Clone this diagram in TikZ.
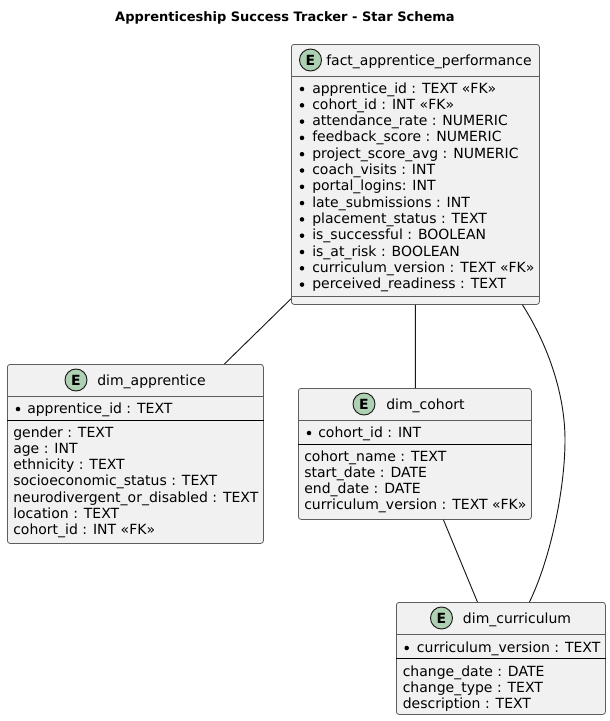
\documentclass[tikz,border=0pt]{standalone}
\usepackage{fontspec}
\setmainfont{DejaVu Sans}
\usetikzlibrary{positioning}
\definecolor{boxcolor}{RGB}{241,241,241}
\definecolor{spotcolor}{RGB}{173,209,178}
\definecolor{linecolor}{RGB}{24,24,24}

\begin{document}
\begin{tikzpicture}[x=0.75pt,y=-0.75pt]
  \tikzset{
    entity/.style={
      draw=linecolor!70,
      line width=0.6pt,
      rounded corners=2pt,
      fill=boxcolor,
      inner sep=0pt,
      anchor=north west
    },
    spot/.style={
      circle,
      draw=linecolor,
      line width=0.7pt,
      fill=spotcolor,
      minimum size=16.5pt,
      inner sep=0pt,
      font=\fontsize{10.5}{12}\selectfont\bfseries
    },
    attr/.style={
      font=\fontsize{10.5}{12}\selectfont,
      anchor=base west,
      inner sep=0pt,
      text=black
    },
    bullet/.style={
      circle,
      fill=black,
      minimum size=3.4pt,
      inner sep=0pt
    },
    divider/.style={
      draw=linecolor!70,
      line width=0.6pt
    },
    keyline/.style={
      draw=black,
      line width=0.7pt
    },
    link/.style={
      draw=linecolor,
      line width=0.7pt
    }
  }
  \useasboundingbox (0,0) rectangle (610,721);

  % Title
  \node[font=\fontsize{9.75}{12}\selectfont\bfseries, inner sep=0pt] (title) at (285,18) {Apprenticeship Success Tracker - Star Schema};

  % Draw the entity boxes
  \node[entity, minimum width=186pt, minimum height=195pt] at (291,44) (fact) {};
  \node[entity, minimum width=192pt, minimum height=134.25pt] at (7,364) (apprentice) {};
  \node[entity, minimum width=174.75pt, minimum height=98.25pt] at (298,388) (cohort) {};
  \node[entity, minimum width=156.75pt, minimum height=84pt] at (396,602) (curriculum) {};

  % Connectors
  \draw[link] ([yshift=4.5pt]fact.south west) -- ([xshift=66.75pt]apprentice.north);
  \draw[link] (fact.south) -- ([xshift=0.4pt]cohort.north);
  \draw[link] ([xshift=80.25pt]fact.south) .. controls (545,340) and (565,390) .. (565,440)
    .. controls (565,490) and (550,560) .. ([xshift=21.4pt]curriculum.north);
  \draw[link] ([xshift=21.4pt]cohort.south) -- ([xshift=-17.6pt]curriculum.north);

  % Fact table
  \node[spot] at (310.5,60) (factspot) {E};
  \node[attr] at (326,65) (factname) {fact\_apprentice\_performance};
  \draw[divider] ([yshift=-24pt]fact.north west) -- ([yshift=-24pt]fact.north east);
  \foreach \txt [count=\i] in {apprentice\_id : TEXT «FK», cohort\_id : INT «FK», attendance\_rate : NUMERIC,
      feedback\_score : NUMERIC, project\_score\_avg : NUMERIC, coach\_visits : INT, portal\_logins: INT,
      late\_submissions : INT, placement\_status : TEXT, is\_successful : BOOLEAN, is\_at\_risk : BOOLEAN,
      curriculum\_version : TEXT «FK», perceived\_readiness : TEXT} {
    \node[bullet] at (302,{89+(\i-1)*16.3}) (factdot\i) {};
    \node[attr] at (312,{93+(\i-1)*16.3}) (factrow\i) {\txt};
  }
  \draw[divider] ([yshift=6pt]fact.south west) -- ([yshift=6pt]fact.south east);

  % Apprentice table
  \node[spot] at (76,380) (apprenticespot) {E};
  \node[attr] at (97,385) (apprenticename) {dim\_apprentice};
  \draw[divider] ([yshift=-24pt]apprentice.north west) -- ([yshift=-24pt]apprentice.north east);
  \node[bullet] at (18,409) (apprenticedot) {};
  \node[attr] at (27,413) (apprenticekey) {apprentice\_id : TEXT};
  \draw[keyline] ([yshift=-42pt]apprentice.north west) -- ([yshift=-42pt]apprentice.north east);
  \foreach \txt [count=\i] in {gender : TEXT, age : INT, ethnicity : TEXT, socioeconomic\_status : TEXT,
      neurodivergent\_or\_disabled : TEXT, location : TEXT, cohort\_id : INT «FK»} {
    \node[attr] at (13,{437+(\i-1)*16.3}) (apprenticerow\i) {\txt};
  }

  % Cohort table
  \node[spot] at (364,404) (cohortspot) {E};
  \node[attr] at (386,409) (cohortname) {dim\_cohort};
  \draw[divider] ([yshift=-24pt]cohort.north west) -- ([yshift=-24pt]cohort.north east);
  \node[bullet] at (309,433) (cohortdot) {};
  \node[attr] at (318,437) (cohortkey) {cohort\_id : INT};
  \draw[keyline] ([yshift=-42pt]cohort.north west) -- ([yshift=-42pt]cohort.north east);
  \foreach \txt [count=\i] in {cohort\_name : TEXT, start\_date : DATE, end\_date : DATE,
      curriculum\_version : TEXT «FK»} {
    \node[attr] at (304,{461+(\i-1)*16.3}) (cohortrow\i) {\txt};
  }

  % Curriculum table
  \node[spot] at (441.5,618) (curriculumspot) {E};
  \node[attr] at (462.7,623) (curriculumname) {dim\_curriculum};
  \draw[divider] ([yshift=-24pt]curriculum.north west) -- ([yshift=-24pt]curriculum.north east);
  \node[bullet] at (406.7,648) (curriculumdot) {};
  \node[attr] at (416.7,652) (curriculumkey) {curriculum\_version : TEXT};
  \draw[keyline] ([yshift=-42pt]curriculum.north west) -- ([yshift=-42pt]curriculum.north east);
  \foreach \txt [count=\i] in {change\_date : DATE, change\_type : TEXT, description : TEXT} {
    \node[attr] at (402.5,{676+(\i-1)*16.3}) (curriculumrow\i) {\txt};
  }
\end{tikzpicture}
\end{document}
